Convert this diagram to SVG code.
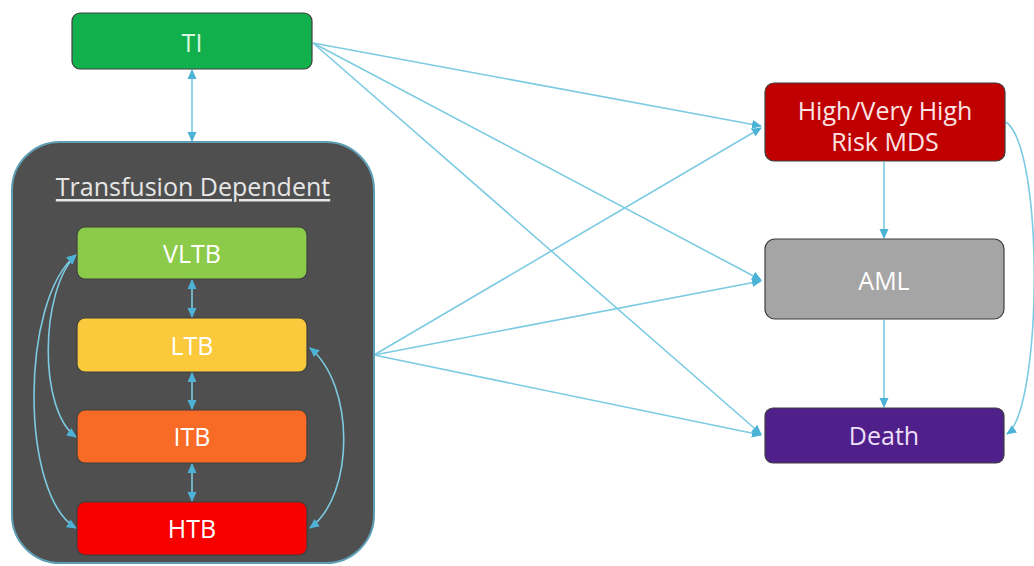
<svg xmlns="http://www.w3.org/2000/svg" width="1034" height="566" viewBox="0 0 1034 566">
<defs>
<marker id="ah" viewBox="0 0 10 10" refX="9" refY="5" markerWidth="10" markerHeight="10" markerUnits="userSpaceOnUse" orient="auto-start-reverse">
<path d="M0,0.5 L10,5 L0,9.5 z" fill="#4db3d6"/>
</marker>
</defs>
<style>
.lbl{font-family:"Open Sans","Liberation Sans",sans-serif;font-size:25px;fill:#ffffff;text-anchor:middle;dominant-baseline:central}
.c{fill:none;stroke:#7ccbe2;stroke-width:1.6}
.box{stroke:#3f3f3f;stroke-width:1.2}
</style>
<rect width="1034" height="566" fill="#ffffff"/>
<g id="connectors">
<path class="c" d="M313,43 L761,126" marker-end="url(#ah)"/>
<path class="c" d="M313,43 L761,280" marker-end="url(#ah)"/>
<path class="c" d="M313,43 L761,434" marker-end="url(#ah)"/>
<path class="c" d="M374,355 L761,128" marker-end="url(#ah)"/>
<path class="c" d="M374,355 L761,281" marker-end="url(#ah)"/>
<path class="c" d="M374,355 L761,435" marker-end="url(#ah)"/>
<path class="c" d="M884,162 L884,238" marker-end="url(#ah)"/>
<path class="c" d="M884,320 L884,407" marker-end="url(#ah)"/>
<path class="c" d="M1006,122 C1045,150 1042,410 1007,434" marker-end="url(#ah)"/>
<path class="c" d="M192,70 L192,141" marker-start="url(#ah)" marker-end="url(#ah)"/>
</g>
<g id="td-container">
<rect x="12" y="142" width="362" height="421" rx="48" fill="#4f4f4f" stroke="#5e9fb5" stroke-width="2"/>
<text x="193" y="186" class="lbl" style="fill:#e6e6e6;text-decoration:underline">Transfusion Dependent</text>
</g>
<g id="inner-connectors">
<path class="c" d="M192,280 L192,317" marker-start="url(#ah)" marker-end="url(#ah)"/>
<path class="c" d="M192,373 L192,409" marker-start="url(#ah)" marker-end="url(#ah)"/>
<path class="c" d="M192,464 L192,501" marker-start="url(#ah)" marker-end="url(#ah)"/>
<path class="c" d="M76,255 C40,290 38,410 76,437" marker-start="url(#ah)" marker-end="url(#ah)"/>
<path class="c" d="M76,255 C20,300 20,495 76,528" marker-start="url(#ah)" marker-end="url(#ah)"/>
<path class="c" d="M310,348 C355,385 355,495 310,528" marker-start="url(#ah)" marker-end="url(#ah)"/>
</g>
<g id="TI">
<rect class="box" x="72" y="13" width="240" height="56" rx="8" fill="#12b04c"/>
<text x="192" y="42" class="lbl" style="fill:#d9f7df">TI</text>
</g>
<g id="VLTB">
<rect class="box" x="77" y="227" width="230" height="52" rx="8" fill="#8ccb4a"/>
<text x="192" y="253" class="lbl">VLTB</text>
</g>
<g id="LTB">
<rect class="box" x="77" y="318" width="230" height="54" rx="8" fill="#fac93c"/>
<text x="192" y="345" class="lbl">LTB</text>
</g>
<g id="ITB">
<rect class="box" x="77" y="410" width="230" height="53" rx="8" fill="#f86b27"/>
<text x="192" y="436" class="lbl">ITB</text>
</g>
<g id="HTB">
<rect class="box" x="77" y="502" width="230" height="53" rx="8" fill="#f70000"/>
<text x="192" y="528" class="lbl">HTB</text>
</g>
<g id="MDS">
<rect class="box" x="765" y="83" width="240" height="78" rx="9" fill="#c00000"/>
<text x="885" y="110" class="lbl" style="fill:#fbe3e3">High/Very High</text>
<text x="885" y="141" class="lbl" style="fill:#fbe3e3">Risk MDS</text>
</g>
<g id="AML">
<rect class="box" x="765" y="239" width="239" height="80" rx="10" fill="#a5a5a5"/>
<text x="884" y="280" class="lbl">AML</text>
</g>
<g id="Death">
<rect class="box" x="765" y="408" width="239" height="55" rx="8" fill="#50208a"/>
<text x="884" y="435" class="lbl" style="fill:#ecdff7">Death</text>
</g>
</svg>
